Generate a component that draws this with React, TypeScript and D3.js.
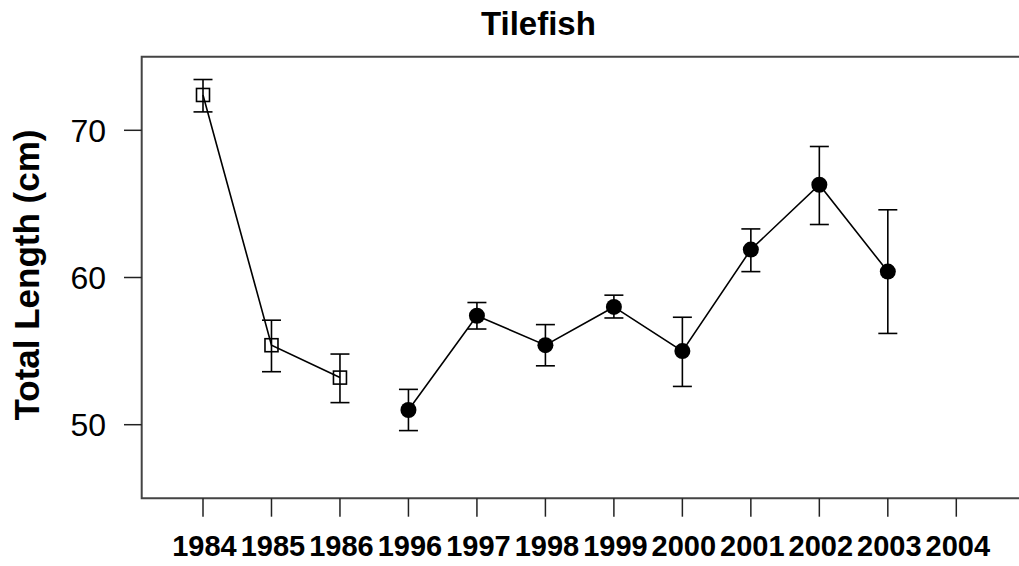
import React from "react";
import * as d3 from "d3";

const years = ["1984", "1985", "1986", "1996", "1997", "1998", "1999", "2000", "2001", "2002", "2003", "2004"];
const means = [72.4, 55.4, 53.2, 51.0, 57.4, 55.4, 58.0, 55.0, 61.9, 66.3, 60.4, null];
const uppers = [73.45, 57.1, 54.8, 52.4, 58.3, 56.8, 58.8, 57.3, 63.3, 68.9, 64.6, null];
const lowers = [71.25, 53.6, 51.5, 49.6, 56.5, 54.0, 57.25, 52.6, 60.4, 63.6, 56.2, null];
const markerType = ["square", "square", "square", "circle", "circle", "circle", "circle", "circle", "circle", "circle", "circle", "none"];
const groups = [[0, 1, 2], [3, 4, 5, 6, 7, 8, 9, 10]];
const yTicks = [50, 60, 70];

export default function App() {
  const W = 1019, H = 566;
  const left = 141.7, top = 56.7, bottom = 498.3;
  const x = d3.scaleLinear().domain([0, 11]).range([203, 956.3]);
  const y = d3.scaleLinear().domain([45, 75]).range([bottom, top]);
  const line = d3.line<number>().x((i) => x(i)).y((i) => y(means[i] as number));
  const font = "'Liberation Sans', Arial, Helvetica, sans-serif";
  return (
    <svg width={W} height={H} style={{ position: "absolute", left: 0, top: 0, background: "#fff" }} fontFamily={font}>
      <text x={538.4} y={35} textAnchor="middle" fontSize={33} fontWeight="bold">Tilefish</text>
      {/* box */}
      <path d={`M${W + 5},${top}H${left}V${bottom}H${W + 5}`} fill="none" stroke="#444" strokeWidth={2} />
      {/* y axis */}
      {yTicks.map((t) => (
        <g key={t}>
          <line x1={124} x2={left} y1={y(t)} y2={y(t)} stroke="#222" strokeWidth={1.5} />
          <text x={106} y={y(t) + 11.5} textAnchor="end" fontSize={32}>{t}</text>
        </g>
      ))}
      <text transform={`translate(39,${275}) rotate(-90)`} textAnchor="middle" fontSize={35} fontWeight="bold">Total Length (cm)</text>
      {/* x axis */}
      {years.map((yr, i) => (
        <g key={yr}>
          <line x1={x(i)} x2={x(i)} y1={bottom} y2={516.7} stroke="#222" strokeWidth={1.5} />
          <text x={x(i) + 1.5} y={556} textAnchor="middle" fontSize={29} fontWeight="bold">{yr}</text>
        </g>
      ))}
      {/* lines */}
      {groups.map((g, k) => (
        <path key={k} d={line(g) as string} fill="none" stroke="#000" strokeWidth={1.6} />
      ))}
      {/* error bars */}
      {years.map((yr, i) =>
        means[i] == null ? null : (
          <g key={"e" + yr} stroke="#000" strokeWidth={1.6}>
            <line x1={x(i)} x2={x(i)} y1={y(uppers[i] as number)} y2={y(lowers[i] as number)} />
            <line x1={x(i) - 9.5} x2={x(i) + 9.5} y1={y(uppers[i] as number)} y2={y(uppers[i] as number)} />
            <line x1={x(i) - 9.5} x2={x(i) + 9.5} y1={y(lowers[i] as number)} y2={y(lowers[i] as number)} />
          </g>
        )
      )}
      {/* markers */}
      {years.map((yr, i) => {
        if (means[i] == null) return null;
        const cx = x(i), cy = y(means[i] as number);
        if (markerType[i] === "square")
          return <rect key={"m" + yr} x={cx - 6.5} y={cy - 6.5} width={13} height={13} fill="none" stroke="#000" strokeWidth={1.6} />;
        return <circle key={"m" + yr} cx={cx} cy={cy} r={8} fill="#000" />;
      })}
    </svg>
  );
}
